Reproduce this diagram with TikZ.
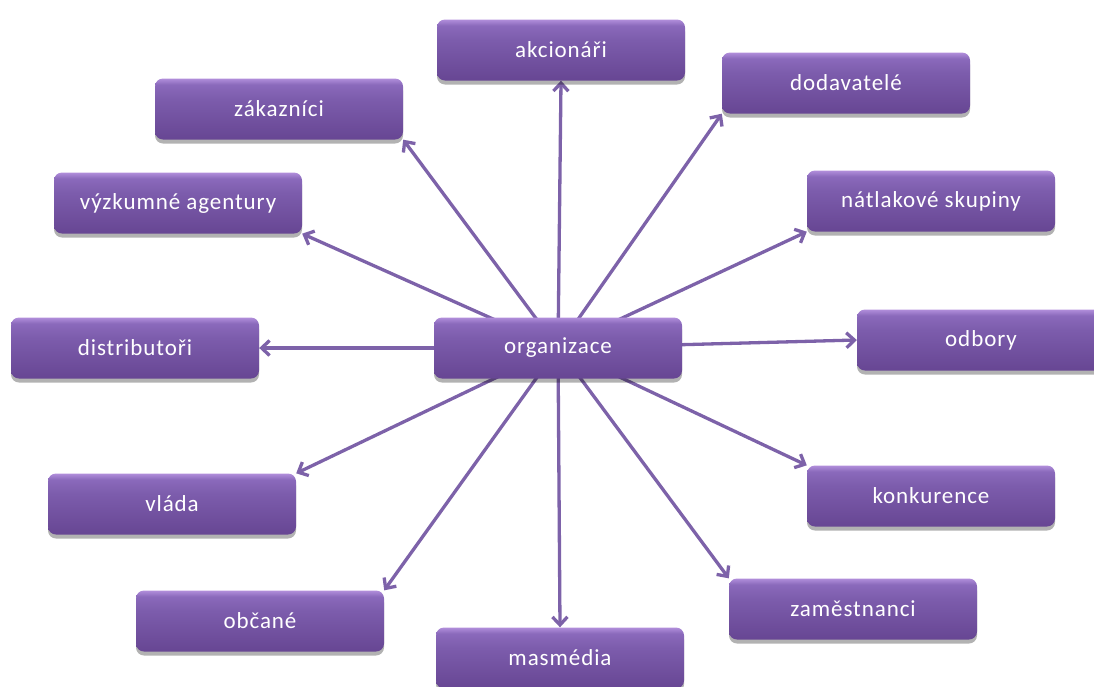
\documentclass[tikz,border=0pt]{standalone}
\usepackage{fontspec}
\setmainfont{Carlito}[LetterSpace=4]
\usepackage{tikz}
\usetikzlibrary{arrows.meta, shadows, backgrounds}
\definecolor{bbot}{HTML}{674693}
\definecolor{bmid}{HTML}{7C5CAC}
\definecolor{btop}{HTML}{8A69BB}
\definecolor{bhi}{HTML}{B18EDB}
\definecolor{arrcol}{HTML}{7D62A9}
\pgfdeclareverticalshading{boxshade}{100bp}{color(0bp)=(bbot); color(25bp)=(bbot);
  color(58bp)=(bmid); color(70bp)=(btop); color(75bp)=(bhi); color(100bp)=(bhi)}
\tikzset{box/.style = {shading = boxshade, rounded corners = 8, minimum width = 248,
    minimum height = 61, inner sep = 0, text = white,
    font = \fontsize{23}{27}\selectfont,
    drop shadow = {shadow xshift = 0pt, shadow yshift = -4pt, opacity = 0.3, fill = black}},
  arr/.style = {arrcol, line width = 3.3, -{Straight Barb[length = 8, width = 15]}}}

\begin{document}
\begin{tikzpicture}[x = 1pt, y = -1pt]
    \useasboundingbox (0, 0) rectangle (1094, 686);

    \node [box] (org) at (558, 348) {organizace};

    \node [box] (akc) at (561, 50) {akcionáři};
    \node [box] (zak) at (279, 109) {zákazníci};
    \node [box] (dod) at (846, 83) {dodavatelé};
    \node [box] (vyz) at (178, 203) {výzkumné agentury};
    \node [box] (nat) at (931, 201) {nátlakové skupiny};
    \node [box] (dis) at (135, 348) {distributoři};
    \node [box] (odb) at (981, 340) {odbory};
    \node [box] (vla) at (172, 504) {vláda};
    \node [box] (kon) at (931, 496) {konkurence};
    \node [box] (obc) at (260, 621) {občané};
    \node [box] (mas) at (560, 658) {masmédia};
    \node [box] (zam) at (853, 609) {zaměstnanci};

    \begin{pgfonlayer}{background}
      \draw [arr] (org.center) -- (akc.south);
      \draw [arr] (org.center) -- (zak.south east);
      \draw [arr] (org.center) -- (dod.south west);
      \draw [arr] (org.center) -- (vyz.south east);
      \draw [arr] (org.center) -- (nat.south west);
      \draw [arr] (org.center) -- (dis.east);
      \draw [arr] (org.center) -- (odb.west);
      \draw [arr] (org.center) -- (vla.north east);
      \draw [arr] (org.center) -- (kon.north west);
      \draw [arr] (org.center) -- (obc.north east);
      \draw [arr] (org.center) -- (mas.north);
      \draw [arr] (org.center) -- (zam.north west);
    \end{pgfonlayer}
  \end{tikzpicture}
\end{document}
